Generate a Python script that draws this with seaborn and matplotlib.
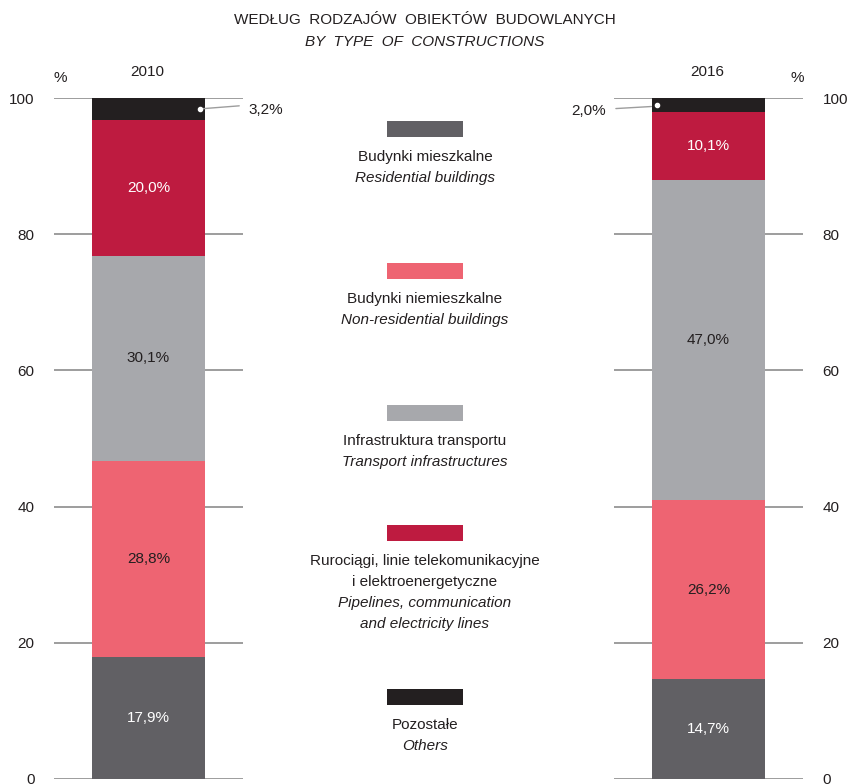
import pandas as pd
import seaborn as sns
import matplotlib.pyplot as plt
from matplotlib import font_manager
from matplotlib.patches import Rectangle

# Dane (od dołu słupka do góry)
kategorie = ["Budynki mieszkalne", "Budynki niemieszkalne", "Infrastruktura transportu",
             "Rurociągi, linie", "Pozostałe"]
wartosci_2010 = [17.9, 28.8, 30.1, 20.0, 3.2]
wartosci_2016 = [14.7, 26.2, 47.0, 10.1, 2.0]
kolory = ["#616064", "#ee6472", "#a7a8ac", "#be1b40", "#231f20"]
kolory_etykiet = ["white", "#231f20", "#231f20", "white", "white"]

opisy_legendy = [
    ["Budynki mieszkalne", "$Residential buildings"],
    ["Budynki niemieszkalne", "$Non-residential buildings"],
    ["Infrastruktura transportu", "$Transport infrastructures"],
    ["Rurociągi, linie telekomunikacyjne", "i elektroenergetyczne",
     "$Pipelines, communication", "$and electricity lines"],
    ["Pozostałe", "$Others"],
]

sns.set_style("white")
nazwy = {f.name for f in font_manager.fontManager.ttflist}
czcionka = "Liberation Sans Narrow" if "Liberation Sans Narrow" in nazwy else "Liberation Sans"
plt.rcParams["font.family"] = [czcionka, "DejaVu Sans"]
plt.rcParams["font.size"] = 11
TXT = "#231f20"

W, H = 848, 784
fig = plt.figure(figsize=(W / 100, H / 100), dpi=100)


def fx(px):
    return px / W


def fy(py):
    return 1 - py / H


def slupek(ax, rok, wartosci, prawa=False):
    df = pd.DataFrame({"kat": kategorie, "wart": wartosci})
    df["skum"] = df["wart"].cumsum()
    # rysowanie skumulowane: od najwyższego
    for i in range(len(df) - 1, -1, -1):
        sns.barplot(x=[rok], y=[df["skum"].iloc[i]], color=kolory[i], saturation=1,
                    width=0.603, ax=ax, linewidth=0, zorder=2)
    ax.set_xlim(-0.5, 0.5)
    ax.set_ylim(0, 100)
    ax.set_yticks(range(0, 101, 20))
    ax.grid(axis="y", color="#9d9d9d", linewidth=1.4, zorder=0)
    ax.set_axisbelow(True)
    for s in ax.spines.values():
        s.set_visible(False)
    ax.set_xticks([])
    ax.set_xlabel("")
    ax.set_ylabel("")
    ax.tick_params(axis="y", length=0, pad=14, labelsize=11, labelcolor=TXT)
    if prawa:
        ax.yaxis.tick_right()
    dolne = df["skum"] - df["wart"]
    for i in range(len(df) - 1):
        ax.text(0, dolne.iloc[i] + df["wart"].iloc[i] / 2,
                f"{df['wart'].iloc[i]:.1f}".replace(".", ",") + "%",
                ha="center", va="center", color=kolory_etykiet[i], fontsize=11, zorder=3)
    return df


ax1 = fig.add_axes([fx(54), fy(779), fx(189), 681 / H])
ax2 = fig.add_axes([fx(614), fy(779), fx(189), 681 / H])
df1 = slupek(ax1, "2010", wartosci_2010)
df2 = slupek(ax2, "2016", wartosci_2016, prawa=True)

# najmniejszy segment - etykieta z linią
y1 = 100 - df1["wart"].iloc[-1] / 2
ax1.plot([0.272, 0.48], [y1, y1 + 0.45], color="#9d9d9d", lw=1, zorder=4, clip_on=False)
ax1.plot(0.272, y1, "o", color="white", ms=3, zorder=5)
ax1.text(0.53, y1 - 0.2, f"{df1['wart'].iloc[-1]:.1f}".replace(".", ",") + "%",
         ha="left", va="center", color=TXT, fontsize=11)
y2 = 100 - df2["wart"].iloc[-1] / 2
ax2.plot([-0.302, -0.49], [y2 - 0.25, y2 - 0.55], color="#9d9d9d", lw=1, zorder=4, clip_on=False)
ax2.plot(-0.27, y2, "o", color="white", ms=3, zorder=5)
ax2.text(-0.545, y2 - 0.95, f"{df2['wart'].iloc[-1]:.1f}".replace(".", ",") + "%",
         ha="right", va="center", color=TXT, fontsize=11)

# tytuł i nagłówki
fig.text(fx(425), fy(20), "WEDŁUG  RODZAJÓW  OBIEKTÓW  BUDOWLANYCH", ha="center", va="center",
         fontsize=11, color=TXT)
fig.text(fx(425), fy(42), "BY  TYPE  OF  CONSTRUCTIONS", ha="center", va="center",
         fontsize=11, color=TXT, style="italic")
fig.text(fx(60), fy(78), "%", ha="center", va="center", fontsize=11, color=TXT)
fig.text(fx(147), fy(72), "2010", ha="center", va="center", fontsize=11, color=TXT)
fig.text(fx(707), fy(72), "2016", ha="center", va="center", fontsize=11, color=TXT)
fig.text(fx(797), fy(78), "%", ha="center", va="center", fontsize=11, color=TXT)

# legenda w środku
gory = [121, 263, 405, 525, 689]
for kolor, top, linie in zip(kolory, gory, opisy_legendy):
    fig.add_artist(Rectangle((fx(387), fy(top + 16)), fx(76), 16 / H,
                             transform=fig.transFigure, color=kolor, lw=0))
    for j, linia in enumerate(linie):
        kursywa = linia.startswith("$")
        fig.text(fx(425), fy(top + 36 + 21 * j), linia.lstrip("$"), ha="center", va="center",
                 fontsize=11, color=TXT, style="italic" if kursywa else "normal")

fig.savefig("out.png", dpi=100)
